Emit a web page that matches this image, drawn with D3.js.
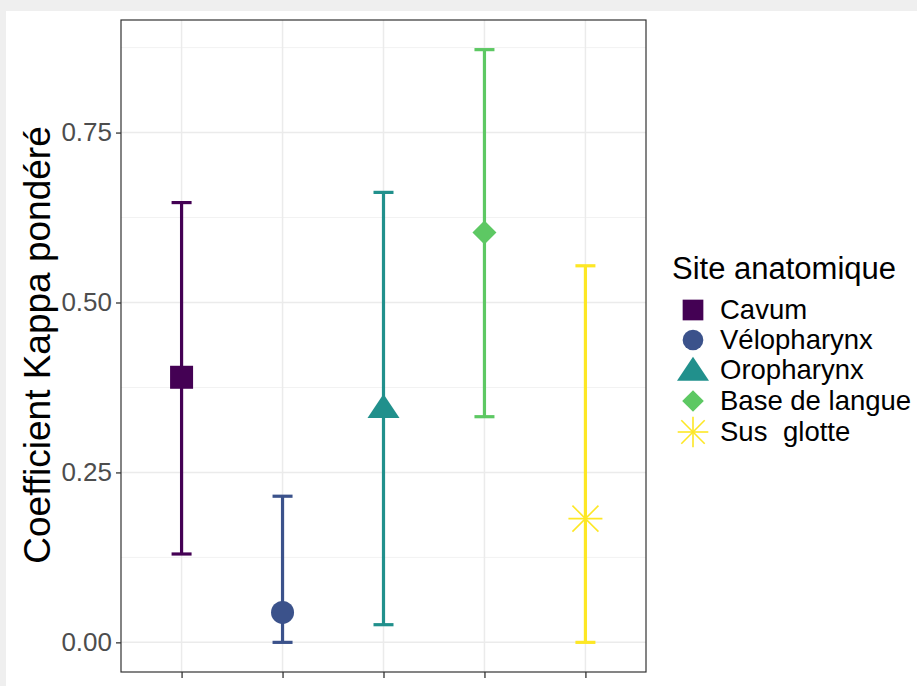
<!DOCTYPE html>
<html>
<head>
<meta charset="utf-8">
<script src="https://cdn.jsdelivr.net/npm/d3@7"></script>
<style>
  html, body { margin: 0; padding: 0; background: #f0f0f0; }
  svg { display: block; }
  text { font-family: "Liberation Sans", Arial, Helvetica, sans-serif; }
</style>
</head>
<body>
<svg id="chart" width="917" height="686"></svg>
<script>
// ---- Data ----
const categories = ["Cavum", "Vélopharynx", "Oropharynx", "Base de langue", "Sus glotte"];
const kappa      = [0.390, 0.044, 0.346, 0.603, 0.182];
const lower      = [0.130, 0.000, 0.026, 0.332, 0.000];
const upper      = [0.647, 0.215, 0.662, 0.872, 0.554];
const colors     = ["#440154", "#3B528B", "#21908C", "#5DC863", "#FDE725"];
const shapes     = ["square", "circle", "triangle", "diamond", "asterisk"];
const yTicks     = [0.00, 0.25, 0.50, 0.75];
const yMinor     = [0.125, 0.375, 0.625, 0.875];
const yTitle     = "Coefficient Kappa pondéré";
const legendTitle = "Site anatomique";

const svg = d3.select("#chart");
// card background (screenshot frame)
svg.append("rect").attr("x", 0).attr("y", 0).attr("width", 917).attr("height", 686).attr("fill", "#efefef");
svg.append("rect").attr("x", 6).attr("y", 11).attr("width", 911).attr("height", 675).attr("fill", "#ffffff");

const panel = {left: 121, right: 646, top: 20, bottom: 672};

const x = d3.scalePoint().domain(categories)
  .range([panel.left, panel.right]).padding(0.6);
const dMin = 0, dMax = d3.max(upper);
const pad = (dMax - dMin) * 0.05;
const y = d3.scaleLinear().domain([dMin - pad, dMax + pad]).range([panel.bottom, panel.top]);

const g = svg.append("g");
// grid
g.selectAll(".minor").data(yMinor).join("line")
  .attr("x1", panel.left).attr("x2", panel.right)
  .attr("y1", d => y(d)).attr("y2", d => y(d))
  .attr("stroke", "#f2f2f2").attr("stroke-width", 1);
g.selectAll(".major").data(yTicks).join("line")
  .attr("x1", panel.left).attr("x2", panel.right)
  .attr("y1", d => y(d)).attr("y2", d => y(d))
  .attr("stroke", "#ebebeb").attr("stroke-width", 1.5);
g.selectAll(".vmajor").data(categories).join("line")
  .attr("x1", d => x(d)).attr("x2", d => x(d))
  .attr("y1", panel.top).attr("y2", panel.bottom)
  .attr("stroke", "#ebebeb").attr("stroke-width", 1.5);

// axes
const yAxis = d3.axisLeft(y).tickValues(yTicks).tickFormat(d3.format(".2f")).tickSize(5).tickPadding(4);
const ya = svg.append("g").attr("transform", `translate(${panel.left},0)`).call(yAxis);
ya.select(".domain").remove();
ya.selectAll(".tick line").attr("stroke", "#333333").attr("stroke-width", 1.3);
ya.selectAll(".tick text").attr("fill", "#4d4d4d").style("font-size", "26px")
  .style("font-family", "'Liberation Sans', Arial, sans-serif");

const xAxis = d3.axisBottom(x).tickSize(6).tickFormat("");
const xa = svg.append("g").attr("transform", `translate(0,${panel.bottom})`).call(xAxis);
xa.select(".domain").remove();
xa.selectAll(".tick line").attr("stroke", "#333333").attr("stroke-width", 1.3);

// panel border
svg.append("rect").attr("x", panel.left).attr("y", panel.top)
  .attr("width", panel.right - panel.left).attr("height", panel.bottom - panel.top)
  .attr("fill", "none").attr("stroke", "#333333").attr("stroke-width", 1.2);

// error bars
const capW = 20;
const eb = svg.append("g");
categories.forEach((c, i) => {
  const cx = x(c);
  const col = colors[i];
  eb.append("line").attr("x1", cx).attr("x2", cx).attr("y1", y(lower[i])).attr("y2", y(upper[i]))
    .attr("stroke", col).attr("stroke-width", 3.2);
  [lower[i], upper[i]].forEach(v => {
    eb.append("line").attr("x1", cx - capW/2).attr("x2", cx + capW/2).attr("y1", y(v)).attr("y2", y(v))
      .attr("stroke", col).attr("stroke-width", 3.2);
  });
});

function drawShape(sel, shape, cx, cy, col, scale) {
  const s = scale || 1;
  if (shape === "square") {
    const w = 23 * s;
    sel.append("rect").attr("x", cx - w/2).attr("y", cy - w/2).attr("width", w).attr("height", w).attr("fill", col);
  } else if (shape === "circle") {
    sel.append("circle").attr("cx", cx).attr("cy", cy).attr("r", 11.5 * s).attr("fill", col);
  } else if (shape === "triangle") {
    const w = 32 * s, h = 24 * s;
    sel.append("path").attr("d", `M${cx},${cy - h*0.55} L${cx + w/2},${cy + h*0.45} L${cx - w/2},${cy + h*0.45} Z`).attr("fill", col);
  } else if (shape === "diamond") {
    const r = 12 * s;
    sel.append("path").attr("d", `M${cx},${cy - r} L${cx + r},${cy} L${cx},${cy + r} L${cx - r},${cy} Z`).attr("fill", col);
  } else if (shape === "asterisk") {
    const r = 17 * s, d = 13 * s;
    const a = sel.append("g").attr("stroke", col).attr("stroke-width", 1.6);
    a.append("line").attr("x1", cx - r).attr("x2", cx + r).attr("y1", cy).attr("y2", cy);
    a.append("line").attr("x1", cx).attr("x2", cx).attr("y1", cy - r).attr("y2", cy + r);
    a.append("line").attr("x1", cx - d).attr("x2", cx + d).attr("y1", cy - d).attr("y2", cy + d);
    a.append("line").attr("x1", cx - d).attr("x2", cx + d).attr("y1", cy + d).attr("y2", cy - d);
  }
}

const pts = svg.append("g");
categories.forEach((c, i) => drawShape(pts, shapes[i], x(c), y(kappa[i]), colors[i], 1));

// y title
svg.append("text")
  .attr("transform", `translate(50,345) rotate(-90)`)
  .attr("text-anchor", "middle").attr("fill", "#000")
  .style("font-size", "37px").text(yTitle);

// legend
const lg = svg.append("g");
lg.append("text").attr("x", 672).attr("y", 279).style("font-size", "31px").attr("fill", "#000").text(legendTitle);
const legY = [310, 340, 370, 401, 432];
categories.forEach((c, i) => {
  drawShape(lg, shapes[i], 693, legY[i], colors[i], i === 2 ? 1 : 0.9);
  lg.append("text").attr("x", 720).attr("y", legY[i] + 9).style("font-size", "27.5px")
    .attr("fill", "#000").style("word-spacing", i === 4 ? "8px" : "0px").text(c);
});
</script>
</body>
</html>
